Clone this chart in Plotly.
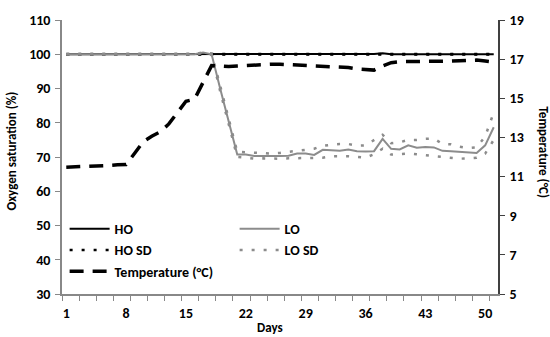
import plotly.graph_objects as go

days = list(range(1, 52))
tick_days = [1, 8, 15, 22, 29, 36, 43, 50]
minor_tick_pos = [0.5 + 2 * k for k in range(26)]

ho = [100, 100, 100, 100, 100, 100, 100, 100, 100, 100,
      100, 100, 100, 100, 100, 100, 100, 100, 100, 100,
      100, 100, 100, 100, 100, 100, 100, 100, 100, 100,
      100, 100, 100, 100, 100, 100.1, 100.1, 100.3, 100, 100,
      100, 100, 100, 100, 100, 100, 100, 100, 100, 100, 100]
ho_sd_upper = [100.1] * 51
ho_sd_lower = [99.9] * 51

lo = [100, 100, 100, 100, 100, 100, 100, 100, 100, 100,
      100, 100, 100, 100, 100, 100,
      100.5, 100, 90, 80.5, 70.7, 70.7, 70.3, 70.3, 70.2, 70.3,
      70.4, 71.0, 71.0, 70.6, 72.1, 72.0, 71.8, 72.2, 71.7, 71.6,
      71.7, 75.3, 72.4, 72.2, 73.4, 72.7, 72.9, 72.8, 71.8, 71.7,
      71.5, 71.2, 71.2, 73.4, 78.7]
lo_sd_upper = [100, 100, 100, 100, 100, 100, 100, 100, 100, 100,
               100, 100, 100, 100, 100, 100,
               100.6, 100.2, 90.8, 81.2, 71.5, 71.4, 71.2, 71.1, 71.0, 71.2,
               71.5, 72.0, 72.2, 72.4, 73.3, 73.6, 73.8, 73.8, 73.3, 73.4,
               75.0, 76.5, 74.0, 74.3, 75.0, 75.0, 75.3, 75.4, 73.8, 73.7,
               73.0, 72.6, 72.8, 76.0, 83.0]
lo_sd_lower = [100, 100, 100, 100, 100, 100, 100, 100, 100, 100,
               100, 100, 100, 100, 100, 100,
               100.4, 99.8, 89.2, 79.8, 70.0, 69.8, 69.5, 69.6, 69.5, 69.5,
               69.6, 69.7, 69.7, 69.7, 69.8, 70.2, 70.3, 70.2, 70.0, 69.8,
               70.8, 72.4, 70.7, 70.8, 71.0, 70.8, 70.5, 70.4, 70.0, 69.6,
               69.5, 69.6, 69.8, 71.0, 75.0]

temperature = [11.48, 11.49, 11.52, 11.54, 11.55, 11.57, 11.60, 11.62, 12.19, 12.78,
               13.06, 13.29, 13.69, 14.30, 14.85, 14.95, 15.86, 16.67, 16.65, 16.62,
               16.65, 16.68, 16.70, 16.72, 16.74, 16.74, 16.72, 16.68, 16.66, 16.64,
               16.62, 16.60, 16.60, 16.57, 16.50, 16.46, 16.44, 16.65, 16.82, 16.87,
               16.87, 16.87, 16.87, 16.87, 16.88, 16.90, 16.92, 16.95, 16.95, 16.90, 16.85]

FONT = "Carlito, Lato, sans-serif"
GRAY = "#8c8c8c"

fig = go.Figure()
fig.add_trace(go.Scatter(x=days, y=ho, mode="lines", name="HO", legendrank=1,
                         line=dict(color="black", width=2)))
fig.add_trace(go.Scatter(x=days, y=ho_sd_upper, mode="lines", name="HO SD", legendrank=3,
                         line=dict(color="black", width=2.5, dash="3px,9px")))
fig.add_trace(go.Scatter(x=days, y=ho_sd_lower, mode="lines", name="HO SD", showlegend=False,
                         line=dict(color="black", width=2.5, dash="3px,9px")))
fig.add_trace(go.Scatter(x=days, y=lo, mode="lines", name="LO", legendrank=2,
                         line=dict(color=GRAY, width=2)))
fig.add_trace(go.Scatter(x=days, y=lo_sd_upper, mode="lines", name="LO SD", legendrank=4,
                         line=dict(color=GRAY, width=2.5, dash="3px,9px")))
fig.add_trace(go.Scatter(x=days, y=lo_sd_lower, mode="lines", name="LO SD", showlegend=False,
                         line=dict(color=GRAY, width=2.5, dash="3px,9px")))
fig.add_trace(go.Scatter(x=days, y=temperature, mode="lines", name="Temperature (°C)",
                         legendrank=5, yaxis="y2",
                         line=dict(color="black", width=3.5, dash="14px,9px")))

tick_font = dict(family=FONT, size=14, color="black", weight="bold")

fig.update_layout(
    width=550, height=337,
    margin=dict(l=62, r=52, t=17, b=43),
    paper_bgcolor="white", plot_bgcolor="white",
    font=dict(family=FONT, size=13, color="black", weight="bold"),
    showlegend=True,
    legend=dict(orientation="h", x=0.006, y=0.295, xanchor="left", yanchor="top",
                entrywidth=115, entrywidthmode="pixels", itemwidth=40,
                bgcolor="rgba(0,0,0,0)",
                font=dict(family=FONT, size=14, color="black", weight="bold"),
                tracegroupgap=0),
    xaxis=dict(range=[0.5, 51.5], tickmode="array", tickvals=tick_days,
               ticktext=[str(d) for d in tick_days], ticks="", showgrid=False,
               zeroline=False, showline=True, linecolor="#888888", linewidth=1.5,
               tickfont=tick_font, ticklabelstandoff=5,
               minor=dict(tickmode="array", tickvals=minor_tick_pos, ticks="outside",
                          ticklen=5, tickcolor="#888888", tickwidth=1, showgrid=False)),
    yaxis=dict(range=[30, 110], tickmode="array", tickvals=[30, 40, 50, 60, 70, 80, 90, 100, 110],
               ticks="outside", ticklen=5, tickcolor="#888888", showgrid=False, zeroline=False,
               showline=True, linecolor="#888888", linewidth=1.5,
               tickfont=tick_font, ticklabelstandoff=2),
    yaxis2=dict(range=[5, 19], overlaying="y", side="right", tickmode="array",
                tickvals=[5, 7, 9, 11, 13, 15, 17, 19], ticks="outside", ticklen=5,
                tickcolor="#404040", showgrid=False, zeroline=False, showline=True,
                linecolor="#404040", linewidth=1.5,
                tickfont=tick_font, ticklabelstandoff=2),
    annotations=[
        dict(text="Oxygen saturation (%)", xref="paper", yref="paper",
             x=(12 - 62) / 436, y=(294 - 150) / 277, textangle=-90, showarrow=False,
             xanchor="center", yanchor="middle",
             font=dict(family=FONT, size=13, weight="bold")),
        dict(text="Temperature (°C)", xref="paper", yref="paper",
             x=(543 - 62) / 436, y=(294 - 150) / 277, textangle=90, showarrow=False,
             xanchor="center", yanchor="middle",
             font=dict(family=FONT, size=13, weight="bold")),
        dict(text="Days", xref="paper", yref="paper",
             x=(270 - 62) / 436, y=(294 - 328) / 277, showarrow=False,
             xanchor="center", yanchor="middle",
             font=dict(family=FONT, size=13, weight="bold")),
    ],
)

fig.write_html("out.html")
